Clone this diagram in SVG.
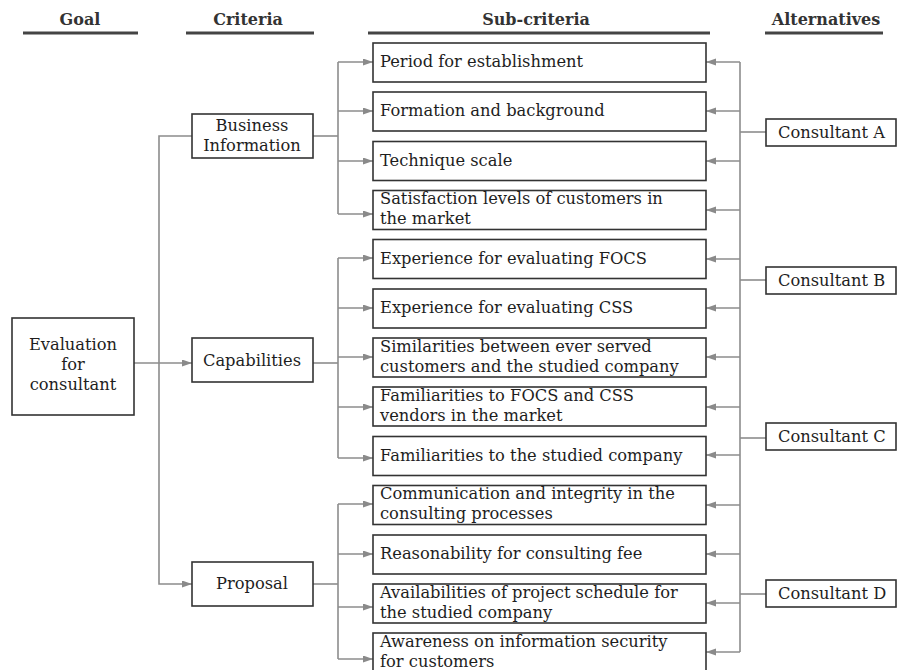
<svg xmlns="http://www.w3.org/2000/svg" width="897" height="670" viewBox="0 0 897 670">
<defs>
<marker id="ah" markerWidth="11" markerHeight="8" refX="10" refY="3.5" orient="auto" markerUnits="userSpaceOnUse">
<path d="M0,0 L10,3.5 L0,7 z" fill="#8a8a8a"/>
</marker>
<style>
.hd{font-family:"DejaVu Serif","Liberation Serif",serif;font-weight:bold;font-size:16px;fill:#333;text-anchor:middle}
.ul{stroke:#444;stroke-width:3}
.bx{fill:#fff;stroke:#333;stroke-width:1.6}
.t{font-family:"DejaVu Serif","Liberation Serif",serif;font-size:16.3px;fill:#1e1e1e}
.c{text-anchor:middle}
.ln{fill:none;stroke:#8c8c8c;stroke-width:1.6}
.ar{fill:none;stroke:#8c8c8c;stroke-width:1.6;marker-end:url(#ah)}
</style>
</defs>
<rect width="897" height="670" fill="#fff"/>
<g id="headers">
<text class="hd" x="80" y="25">Goal</text>
<line class="ul" x1="23" y1="33" x2="138" y2="33"/>
<text class="hd" x="248" y="25">Criteria</text>
<line class="ul" x1="186" y1="33" x2="314" y2="33"/>
<text class="hd" x="536" y="25">Sub-criteria</text>
<line class="ul" x1="368" y1="33" x2="710" y2="33"/>
<text class="hd" x="826" y="25">Alternatives</text>
<line class="ul" x1="765" y1="33" x2="883" y2="33"/>
</g>
<g id="connectors">
<line class="ar" x1="134" y1="363" x2="192" y2="363"/>
<polyline class="ar" points="192,136 159,136 159,584 192,584"/>
<polyline class="ln" points="313,136 338,136"/>
<line class="ln" x1="338" y1="62" x2="338" y2="214"/>
<line class="ar" x1="338" y1="62" x2="373" y2="62"/>
<line class="ar" x1="338" y1="111" x2="373" y2="111"/>
<line class="ar" x1="338" y1="161" x2="373" y2="161"/>
<line class="ar" x1="338" y1="214" x2="373" y2="214"/>
<polyline class="ln" points="313,363 338,363"/>
<line class="ln" x1="338" y1="258" x2="338" y2="458"/>
<line class="ar" x1="338" y1="258" x2="373" y2="258"/>
<line class="ar" x1="338" y1="308" x2="373" y2="308"/>
<line class="ar" x1="338" y1="357" x2="373" y2="357"/>
<line class="ar" x1="338" y1="407" x2="373" y2="407"/>
<line class="ar" x1="338" y1="458" x2="373" y2="458"/>
<polyline class="ln" points="313,584 338,584"/>
<line class="ln" x1="338" y1="504" x2="338" y2="659"/>
<line class="ar" x1="338" y1="504" x2="373" y2="504"/>
<line class="ar" x1="338" y1="554" x2="373" y2="554"/>
<line class="ar" x1="338" y1="607" x2="373" y2="607"/>
<line class="ar" x1="338" y1="659" x2="373" y2="659"/>
<line class="ln" x1="740" y1="62" x2="740" y2="652"/>
<line class="ar" x1="740" y1="62" x2="706" y2="62"/>
<line class="ar" x1="740" y1="111" x2="706" y2="111"/>
<line class="ar" x1="740" y1="161" x2="706" y2="161"/>
<line class="ar" x1="740" y1="210" x2="706" y2="210"/>
<line class="ar" x1="740" y1="259" x2="706" y2="259"/>
<line class="ar" x1="740" y1="308" x2="706" y2="308"/>
<line class="ar" x1="740" y1="357" x2="706" y2="357"/>
<line class="ar" x1="740" y1="407" x2="706" y2="407"/>
<line class="ar" x1="740" y1="455" x2="706" y2="455"/>
<line class="ar" x1="740" y1="505" x2="706" y2="505"/>
<line class="ar" x1="740" y1="554" x2="706" y2="554"/>
<line class="ar" x1="740" y1="603" x2="706" y2="603"/>
<line class="ar" x1="740" y1="652" x2="706" y2="652"/>
<line class="ln" x1="740" y1="132" x2="766" y2="132"/>
<line class="ln" x1="740" y1="280" x2="766" y2="280"/>
<line class="ln" x1="740" y1="438" x2="766" y2="438"/>
<line class="ln" x1="740" y1="594" x2="766" y2="594"/>
</g>
<g id="goal">
<rect class="bx" x="12" y="318" width="122" height="97"/>
<text class="t c" x="73" y="350">Evaluation</text>
<text class="t c" x="73" y="370">for</text>
<text class="t c" x="73" y="390">consultant</text>
</g>
<g id="crit-business">
<rect class="bx" x="192" y="114" width="121" height="44"/>
<text class="t c" x="252" y="131">Business</text>
<text class="t c" x="252" y="151">Information</text>
</g>
<g id="crit-capabilities">
<rect class="bx" x="192" y="338" width="121" height="44"/>
<text class="t c" x="252" y="366">Capabilities</text>
</g>
<g id="crit-proposal">
<rect class="bx" x="192" y="562" width="121" height="44"/>
<text class="t c" x="252" y="589">Proposal</text>
</g>
<g id="sub1"><rect class="bx" x="373" y="43" width="333" height="39"/><text class="t" x="380" y="67">Period for establishment</text></g>
<g id="sub2"><rect class="bx" x="373" y="92" width="333" height="39"/><text class="t" x="380" y="116">Formation and background</text></g>
<g id="sub3"><rect class="bx" x="373" y="141.5" width="333" height="39"/><text class="t" x="380" y="165.5">Technique scale</text></g>
<g id="sub4"><rect class="bx" x="373" y="190.5" width="333" height="39"/><text class="t" x="380" y="204">Satisfaction levels of customers in</text><text class="t" x="380" y="224">the market</text></g>
<g id="sub5"><rect class="bx" x="373" y="239.5" width="333" height="39"/><text class="t" x="380" y="263.5">Experience for evaluating FOCS</text></g>
<g id="sub6"><rect class="bx" x="373" y="289" width="333" height="39"/><text class="t" x="380" y="313">Experience for evaluating CSS</text></g>
<g id="sub7"><rect class="bx" x="373" y="338" width="333" height="39"/><text class="t" x="380" y="352">Similarities between ever served</text><text class="t" x="380" y="372">customers and the studied company</text></g>
<g id="sub8"><rect class="bx" x="373" y="387" width="333" height="39"/><text class="t" x="380" y="400.5">Familiarities to FOCS and CSS</text><text class="t" x="380" y="420.5">vendors in the market</text></g>
<g id="sub9"><rect class="bx" x="373" y="436.5" width="333" height="39"/><text class="t" x="380" y="460.5">Familiarities to the studied company</text></g>
<g id="sub10"><rect class="bx" x="373" y="485.5" width="333" height="39"/><text class="t" x="380" y="499">Communication and integrity in the</text><text class="t" x="380" y="519">consulting processes</text></g>
<g id="sub11"><rect class="bx" x="373" y="535" width="333" height="39"/><text class="t" x="380" y="559">Reasonability for consulting fee</text></g>
<g id="sub12"><rect class="bx" x="373" y="584" width="333" height="39"/><text class="t" x="380" y="597.5">Availabilities of project schedule for</text><text class="t" x="380" y="617.5">the studied company</text></g>
<g id="sub13"><rect class="bx" x="373" y="633" width="333" height="40"/><text class="t" x="380" y="646.5">Awareness on information security</text><text class="t" x="380" y="666.5">for customers</text></g>
<g id="altA"><rect class="bx" x="766" y="119" width="130" height="27"/><text class="t" x="778" y="137.5">Consultant A</text></g>
<g id="altB"><rect class="bx" x="766" y="267" width="130" height="27"/><text class="t" x="778" y="285.5">Consultant B</text></g>
<g id="altC"><rect class="bx" x="766" y="423" width="130" height="27"/><text class="t" x="778" y="441.5">Consultant C</text></g>
<g id="altD"><rect class="bx" x="766" y="580" width="130" height="27"/><text class="t" x="778" y="598.5">Consultant D</text></g>
</svg>
